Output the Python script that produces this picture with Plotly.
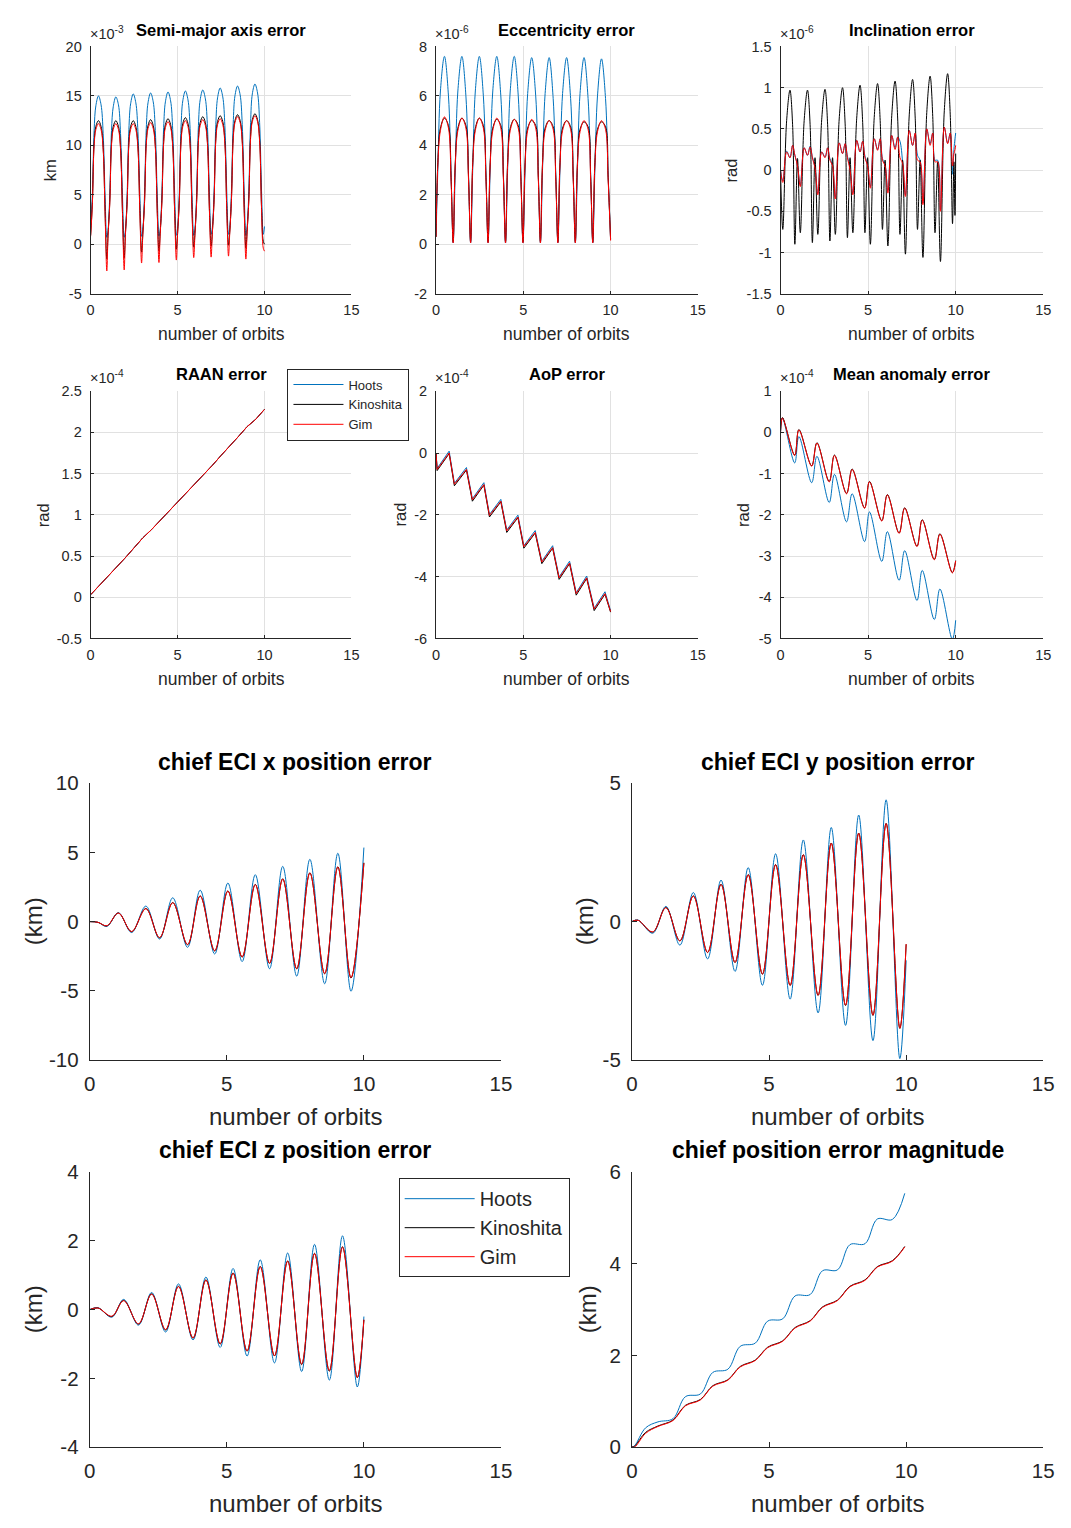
import plotly.graph_objects as go

# ======================= DATA =======================
SERIES = ["Hoots", "Kinoshita", "Gim"]

# --- Semi-major axis error (x1e-3 km)
X_SMA = [0.0, 0.1, 0.2, 0.3, 0.45, 0.6, 0.72, 0.83, 0.93,
         1.0, 1.1, 1.2, 1.3, 1.45, 1.6, 1.72, 1.83, 1.93,
         2.0, 2.1, 2.2, 2.3, 2.45, 2.6, 2.72, 2.83, 2.93,
         3.0, 3.1, 3.2, 3.3, 3.45, 3.6, 3.72, 3.83, 3.93,
         4.0, 4.1, 4.2, 4.3, 4.45, 4.6, 4.72, 4.83, 4.93,
         5.0, 5.1, 5.2, 5.3, 5.45, 5.6, 5.72, 5.83, 5.93,
         6.0, 6.1, 6.2, 6.3, 6.45, 6.6, 6.72, 6.83, 6.93,
         7.0, 7.1, 7.2, 7.3, 7.45, 7.6, 7.72, 7.83, 7.93,
         8.0, 8.1, 8.2, 8.3, 8.45, 8.6, 8.72, 8.83, 8.93,
         9.0, 9.1, 9.2, 9.3, 9.45, 9.6, 9.72, 9.83, 9.93,
         10.0]
SMA_HOOTS = [1.8, 5.0, 11.5, 14.0, 15.0, 14.1, 11.2, 5.0, 0.7,
             1.4, 5.0, 11.5, 13.9, 14.9, 14.1, 11.2, 5.0, 0.7,
             1.4, 5.1, 11.6, 14.2, 15.2, 14.3, 11.4, 5.1, 0.8,
             1.5, 5.1, 11.7, 14.3, 15.3, 14.4, 11.5, 5.1, 0.8,
             1.5, 5.2, 11.8, 14.4, 15.4, 14.5, 11.6, 5.2, 0.9,
             1.6, 5.2, 11.9, 14.5, 15.5, 14.6, 11.7, 5.2, 0.9,
             1.6, 5.3, 12.0, 14.6, 15.6, 14.7, 11.8, 5.3, 1.0,
             1.7, 5.3, 12.1, 14.8, 15.8, 14.9, 12.0, 5.3, 1.0,
             1.7, 5.4, 12.2, 15.0, 16.0, 15.1, 12.1, 5.4, 0.9,
             1.8, 5.4, 12.3, 15.2, 16.2, 15.3, 12.3, 5.4, 1.0,
             1.8]
SMA_KINO = [0.9, 4.2, 10.2, 11.9, 12.5, 11.9, 9.8, 3.3, -1.5,
            0.9, 4.2, 10.2, 11.9, 12.5, 11.9, 9.8, 3.3, -1.4,
            1.0, 4.3, 10.3, 11.9, 12.5, 11.9, 9.9, 3.4, -0.8,
            1.0, 4.3, 10.3, 12.0, 12.6, 12.0, 10.0, 3.4, -0.7,
            1.1, 4.4, 10.4, 12.1, 12.7, 12.1, 10.1, 3.5, -0.5,
            1.1, 4.4, 10.5, 12.2, 12.8, 12.2, 10.2, 3.5, -0.3,
            1.1, 4.5, 10.6, 12.3, 12.9, 12.3, 10.3, 3.6, -0.2,
            1.2, 4.5, 10.7, 12.4, 13.0, 12.4, 10.4, 3.6, -0.1,
            1.2, 4.6, 10.8, 12.5, 13.1, 12.5, 10.5, 3.7, -0.4,
            1.3, 4.6, 10.9, 12.6, 13.2, 12.6, 10.6, 3.7, 0.3,
            0.0]
SMA_GIM = [0.8, 4.1, 10.0, 11.6, 12.2, 11.6, 9.6, 3.2, -2.7,
           0.8, 4.1, 10.0, 11.6, 12.2, 11.6, 9.6, 3.2, -2.6,
           0.9, 4.2, 10.1, 11.6, 12.2, 11.6, 9.7, 3.3, -1.9,
           0.9, 4.2, 10.1, 11.7, 12.3, 11.7, 9.8, 3.3, -1.85,
           1.0, 4.3, 10.2, 11.8, 12.4, 11.8, 9.9, 3.4, -1.6,
           1.0, 4.3, 10.3, 11.9, 12.5, 11.9, 10.0, 3.4, -1.35,
           1.0, 4.4, 10.4, 12.0, 12.6, 12.0, 10.1, 3.5, -1.3,
           1.1, 4.4, 10.5, 12.1, 12.7, 12.1, 10.2, 3.5, -1.2,
           1.1, 4.5, 10.6, 12.3, 12.9, 12.3, 10.3, 3.6, -1.5,
           1.2, 4.5, 10.7, 12.4, 13.0, 12.4, 10.4, 3.6, -0.4,
           -0.7]

# --- Eccentricity error (x1e-6)
X_ECC = [0.0, 0.1, 0.25, 0.48, 0.71, 0.86,
         0.98, 1.1, 1.25, 1.48, 1.71, 1.86,
         1.98, 2.1, 2.25, 2.48, 2.71, 2.86,
         2.98, 3.1, 3.25, 3.48, 3.71, 3.86,
         3.98, 4.1, 4.25, 4.48, 4.71, 4.86,
         4.98, 5.1, 5.25, 5.48, 5.71, 5.86,
         5.98, 6.1, 6.25, 6.48, 6.71, 6.86,
         6.98, 7.1, 7.25, 7.48, 7.71, 7.86,
         7.98, 8.1, 8.25, 8.48, 8.71, 8.86,
         8.98, 9.1, 9.25, 9.48, 9.71, 9.86,
         10.0]
ECC_HOOTS = [0.3, 3.0, 6.2, 7.6, 6.0, 2.8,
             0.05, 3.0, 6.2, 7.6, 6.0, 2.8,
             0.05, 3.0, 6.2, 7.6, 6.0, 2.8,
             0.05, 3.0, 6.2, 7.6, 6.0, 2.8,
             0.05, 3.0, 6.2, 7.6, 6.0, 2.8,
             0.05, 3.0, 6.1, 7.55, 6.0, 2.8,
             0.05, 3.0, 6.1, 7.55, 5.9, 2.8,
             0.05, 3.0, 6.1, 7.55, 5.9, 2.8,
             0.05, 3.0, 6.1, 7.55, 5.9, 2.8,
             0.05, 3.0, 6.0, 7.5, 5.9, 2.8,
             0.2]
ECC_KINO = [0.3, 3.3, 4.7, 5.1, 4.8, 2.7,
            0.1, 3.3, 4.7, 5.1, 4.8, 2.7,
            0.1, 3.3, 4.7, 5.1, 4.8, 2.7,
            0.1, 3.3, 4.7, 5.05, 4.8, 2.7,
            0.1, 3.3, 4.7, 5.05, 4.8, 2.7,
            0.1, 3.3, 4.7, 5.0, 4.8, 2.7,
            0.1, 3.3, 4.7, 5.0, 4.75, 2.7,
            0.1, 3.3, 4.7, 5.0, 4.75, 2.7,
            0.1, 3.3, 4.65, 4.95, 4.75, 2.7,
            0.1, 3.3, 4.65, 4.95, 4.75, 2.7,
            0.2]
ECC_GIM = [0.3, 3.2, 4.6, 5.15, 4.7, 2.6,
           0.05, 3.2, 4.6, 5.1, 4.7, 2.6,
           0.05, 3.2, 4.6, 5.1, 4.7, 2.6,
           0.05, 3.2, 4.6, 5.1, 4.7, 2.6,
           0.05, 3.2, 4.6, 5.05, 4.7, 2.6,
           0.05, 3.2, 4.6, 5.05, 4.7, 2.6,
           0.05, 3.2, 4.6, 5.0, 4.65, 2.6,
           0.05, 3.2, 4.6, 5.0, 4.65, 2.6,
           0.05, 3.2, 4.55, 5.0, 4.65, 2.6,
           0.05, 3.2, 4.55, 5.0, 4.65, 2.6,
           0.15]

# --- Inclination error (x1e-6 rad)
X_INC = [0.0, 0.13, 0.35, 0.54, 0.69, 0.82,
         0.97, 1.13, 1.35, 1.54, 1.69, 1.82,
         1.97, 2.13, 2.35, 2.54, 2.69, 2.82,
         2.97, 3.13, 3.35, 3.54, 3.69, 3.82,
         3.97, 4.13, 4.35, 4.54, 4.69, 4.82,
         4.97, 5.13, 5.35, 5.54, 5.69, 5.82,
         5.97, 6.13, 6.35, 6.54, 6.69, 6.82,
         6.97, 7.13, 7.35, 7.54, 7.69, 7.82,
         7.97, 8.13, 8.35, 8.54, 8.69, 8.82,
         8.97, 9.13, 9.35, 9.54, 9.69, 9.82,
         9.9, 9.96, 10.0]
INC_HOOTS = [0.0, -0.13, 0.23, 0.15, 0.3, 0.18,
             0.06, -0.18, 0.27, 0.18, 0.29, 0.16,
             0.03, -0.28, 0.22, 0.16, 0.27, 0.14,
             0.06, -0.33, 0.33, 0.2, 0.32, 0.17,
             0.02, -0.28, 0.36, 0.22, 0.35, 0.17,
             0.06, -0.2, 0.38, 0.25, 0.38, 0.14,
             0.06, -0.25, 0.42, 0.27, 0.4, 0.35,
             0.1, -0.3, 0.48, 0.3, 0.45, 0.18,
             0.12, -0.4, 0.5, 0.32, 0.45, 0.12,
             0.12, -0.48, 0.52, 0.33, 0.45, -0.05,
             0.25, 0.38, 0.45]
INC_KINO = [0.0, -0.72, 0.6, 0.97, 0.55, -0.90,
            0.14, -0.76, 0.6, 0.97, 0.55, -0.88,
            0.15, -0.78, 0.61, 0.98, 0.55, -0.86,
            0.15, -0.78, 0.62, 1.0, 0.56, -0.82,
            0.15, -0.76, 0.63, 1.03, 0.58, -0.76,
            0.15, -0.90, 0.64, 1.05, 0.6, -0.72,
            0.12, -0.92, 0.66, 1.08, 0.62, -0.78,
            0.12, -1.02, 0.67, 1.1, 0.63, -0.72,
            0.12, -1.06, 0.7, 1.14, 0.65, -0.76,
            0.1, -1.11, 0.72, 1.17, 0.67, -0.65,
            0.1, -0.55, 0.2]
INC_GIM = [0.0, -0.15, 0.22, 0.15, 0.3, 0.18,
           0.05, -0.2, 0.27, 0.18, 0.28, 0.15,
           0.02, -0.3, 0.22, 0.15, 0.27, 0.12,
           0.05, -0.35, 0.33, 0.2, 0.32, 0.15,
           0.0, -0.3, 0.36, 0.22, 0.35, 0.15,
           0.05, -0.22, 0.38, 0.24, 0.38, 0.12,
           0.05, -0.28, 0.42, 0.25, 0.4, 0.15,
           0.08, -0.32, 0.48, 0.3, 0.45, 0.12,
           0.1, -0.42, 0.5, 0.3, 0.45, 0.1,
           0.1, -0.5, 0.52, 0.32, 0.45, 0.05,
           0.2, 0.25, 0.3]

# --- RAAN error (x1e-4 rad)
X_RAAN = [0.0, 0.5, 1.0, 1.5, 2.0, 2.5, 3.0, 3.5, 4.0, 4.5, 5.0,
          5.5, 6.0, 6.5, 7.0, 7.5, 8.0, 8.5, 9.0, 9.5, 10.0]
RAAN_HOOTS = [0.03, 0.14, 0.25, 0.37, 0.48, 0.6, 0.72, 0.82, 0.93, 1.04, 1.15,
              1.27, 1.38, 1.49, 1.6, 1.72, 1.83, 1.95, 2.07, 2.16, 2.28]
RAAN_KINO = [0.03, 0.14, 0.25, 0.37, 0.48, 0.6, 0.72, 0.82, 0.93, 1.04, 1.15,
             1.27, 1.38, 1.49, 1.6, 1.72, 1.83, 1.95, 2.07, 2.16, 2.28]
RAAN_GIM = [0.03, 0.14, 0.25, 0.37, 0.48, 0.6, 0.72, 0.82, 0.93, 1.04, 1.15,
            1.27, 1.38, 1.49, 1.6, 1.72, 1.83, 1.95, 2.07, 2.16, 2.28]

# --- AoP error (x1e-4 rad)
X_AOP = [0.0, 0.06, 0.75, 1.05, 1.74, 2.08, 2.74, 3.06, 3.71, 4.05, 4.69,
         5.03, 5.68, 6.06, 6.68, 7.05, 7.65, 8.03, 8.63, 9.06, 9.68, 10.0]
AOP_HOOTS = [0.0, -0.5, 0.06, -0.98, -0.47, -1.48, -0.96, -1.99, -1.5, -2.49, -2.01,
             -3.0, -2.51, -3.5, -3.0, -4.01, -3.5, -4.52, -3.98, -5.02, -4.49, -5.1]
AOP_KINO = [0.0, -0.57, -0.02, -1.06, -0.55, -1.56, -1.04, -2.07, -1.58, -2.57, -2.09,
            -3.08, -2.59, -3.58, -3.08, -4.09, -3.58, -4.6, -4.06, -5.1, -4.57, -5.15]
AOP_GIM = [0.0, -0.53, 0.0, -1.01, -0.53, -1.51, -1.02, -2.02, -1.56, -2.52, -2.07,
           -3.03, -2.57, -3.53, -3.06, -4.04, -3.56, -4.55, -4.04, -5.05, -4.55, -5.13]

# --- Mean anomaly error (x1e-4 rad)
X_MA = [0.0, 0.11, 0.81, 1.05, 1.78, 2.08, 2.78, 3.08, 3.77, 4.09, 4.8,
        5.08, 5.78, 6.1, 6.77, 7.09, 7.79, 8.09, 8.78, 9.1, 9.81, 10.0]
MA_HOOTS = [0.0, 0.35, -0.74, -0.1, -1.22, -0.58, -1.7, -1.02, -2.17, -1.49, -2.65,
            -1.93, -3.13, -2.41, -3.59, -2.87, -4.08, -3.35, -4.54, -3.8, -5.02, -4.56]
MA_KINO = [0.0, 0.36, -0.55, 0.07, -0.81, -0.25, -1.19, -0.55, -1.48, -0.89, -1.83,
           -1.19, -2.14, -1.51, -2.44, -1.83, -2.76, -2.12, -3.08, -2.46, -3.4, -3.11]
MA_GIM = [0.0, 0.35, -0.56, 0.06, -0.82, -0.26, -1.2, -0.56, -1.49, -0.9, -1.84,
          -1.2, -2.15, -1.52, -2.45, -1.84, -2.77, -2.13, -3.09, -2.47, -3.41, -3.12]

# --- chief ECI x position error (km)
X_ECIX = [0.0, 0.3, 0.63, 1.05, 1.53, 2.05, 2.55, 3.03, 3.57, 4.03, 4.56,
          5.04, 5.56, 6.04, 6.56, 7.04, 7.55, 8.03, 8.57, 9.05, 9.53, 10.0]
ECIX_HOOTS = [0.0, -0.05, -0.35, 0.65, -0.79, 1.12, -1.26, 1.72, -1.86, 2.27, -2.34,
              2.79, -2.89, 3.39, -3.41, 3.99, -3.94, 4.5, -4.49, 4.94, -5.03, 5.35]
ECIX_KINO = [0.0, -0.05, -0.31, 0.62, -0.73, 0.95, -1.17, 1.38, -1.67, 1.86, -2.12,
             2.22, -2.57, 2.69, -3.02, 3.1, -3.42, 3.53, -3.77, 3.96, -4.08, 4.25]
ECIX_GIM = [0.0, -0.05, -0.3, 0.62, -0.72, 0.93, -1.15, 1.36, -1.65, 1.84, -2.1,
            2.2, -2.55, 2.67, -3.0, 3.08, -3.4, 3.51, -3.75, 3.94, -4.05, 4.22]

# --- chief ECI y position error (km)
X_ECIY = [0.0, 0.22, 0.76, 1.24, 1.75, 2.24, 2.76, 3.25, 3.76, 4.24, 4.76,
          5.24, 5.77, 6.25, 6.79, 7.27, 7.79, 8.27, 8.79, 9.27, 9.77, 10.0]
ECIY_HOOTS = [0.0, 0.06, -0.42, 0.55, -0.85, 1.05, -1.35, 1.5, -1.8, 1.95, -2.3,
              2.45, -2.8, 2.95, -3.3, 3.4, -3.75, 3.85, -4.3, 4.4, -4.95, -1.4]
ECIY_KINO = [0.0, 0.05, -0.38, 0.51, -0.7, 0.93, -1.12, 1.35, -1.48, 1.7, -1.9,
             2.06, -2.31, 2.42, -2.67, 2.84, -3.03, 3.2, -3.39, 3.55, -3.86, -0.82]
ECIY_GIM = [0.0, 0.05, -0.37, 0.5, -0.69, 0.92, -1.11, 1.34, -1.47, 1.69, -1.89,
            2.05, -2.3, 2.41, -2.66, 2.83, -3.02, 3.19, -3.38, 3.54, -3.85, -0.81]

# --- chief ECI z position error (km)
X_ECIZ = [0.0, 0.3, 0.81, 1.24, 1.78, 2.26, 2.77, 3.24, 3.77, 4.24, 4.76,
          5.23, 5.74, 6.22, 6.74, 7.22, 7.73, 8.2, 8.74, 9.22, 9.76, 10.0]
ECIZ_HOOTS = [0.0, 0.06, -0.22, 0.3, -0.45, 0.5, -0.65, 0.75, -0.88, 0.95, -1.1,
              1.2, -1.35, 1.45, -1.55, 1.65, -1.8, 1.9, -2.05, 2.15, -2.25, -0.2]
ECIZ_KINO = [0.0, 0.05, -0.2, 0.27, -0.42, 0.46, -0.59, 0.68, -0.83, 0.87, -1.0,
             1.07, -1.21, 1.26, -1.35, 1.42, -1.6, 1.64, -1.79, 1.83, -1.98, -0.3]
ECIZ_GIM = [0.0, 0.05, -0.19, 0.26, -0.41, 0.45, -0.58, 0.67, -0.82, 0.86, -0.99,
            1.06, -1.2, 1.25, -1.34, 1.41, -1.58, 1.63, -1.77, 1.82, -1.97, -0.29]

# --- chief position error magnitude (km)
X_MAG = [0.0, 0.1, 0.5, 0.95, 1.5, 1.95, 2.5, 2.95, 3.5, 3.95, 4.5,
         4.95, 5.5, 5.95, 6.5, 6.95, 7.5, 7.95, 8.5, 8.95, 9.5, 9.95]
MAG_HOOTS = [0.0, 0.03, 0.42, 0.55, 0.62, 1.1, 1.16, 1.63, 1.7, 2.2, 2.27,
             2.75, 2.8, 3.3, 3.33, 3.85, 3.87, 4.42, 4.44, 4.98, 4.97, 5.54]
MAG_KINO = [0.0, 0.02, 0.32, 0.46, 0.59, 0.91, 1.04, 1.34, 1.47, 1.76, 1.9,
            2.18, 2.32, 2.61, 2.76, 3.06, 3.21, 3.51, 3.65, 3.94, 4.07, 4.38]
MAG_GIM = [0.0, 0.0, 0.3, 0.45, 0.58, 0.9, 1.03, 1.33, 1.46, 1.75, 1.89,
           2.17, 2.31, 2.6, 2.75, 3.05, 3.2, 3.5, 3.64, 3.93, 4.06, 4.37]

X_TICKS = [0, 5, 10, 15]
Y_TICKS = {
    "sma": [-5, 0, 5, 10, 15, 20],
    "ecc": [-2, 0, 2, 4, 6, 8],
    "inc": [-1.5, -1, -0.5, 0, 0.5, 1, 1.5],
    "raan": [-0.5, 0, 0.5, 1, 1.5, 2, 2.5],
    "aop": [-6, -4, -2, 0, 2],
    "ma": [-5, -4, -3, -2, -1, 0, 1],
    "ecix": [-10, -5, 0, 5, 10],
    "eciy": [-5, 0, 5],
    "eciz": [-4, -2, 0, 2, 4],
    "mag": [0, 2, 4, 6],
}

# ======================= STYLE / LAYOUT =======================
W, H = 1071, 1528
FONT = "Liberation Sans, Arial, Helvetica, sans-serif"
AX = "#262626"
GRID = "#e1e1e1"
COLORS = {"Hoots": "#0072BD", "Kinoshita": "#000000", "Gim": "#FF0000"}


def fx(p):
    return p / W


def fy(p):
    return 1 - p / H


PANELS = [
    dict(key="sma", x=X_SMA, ys=[SMA_HOOTS, SMA_KINO, SMA_GIM], box=(86, 351, 35, 286),
         yr=(-5, 20), small=True, title="Semi-major axis error", ty=18, yl="km", ylx=45,
         exp="×10<sup>-3</sup>", shape="spline", title_bg=True),
    dict(key="ecc", x=X_ECC, ys=[ECC_HOOTS, ECC_KINO, ECC_GIM], box=(437, 703, 35, 286),
         yr=(-2, 8), small=True, title="Eccentricity error", ty=18, yl=None, ylx=None,
         exp="×10<sup>-6</sup>", shape="spline"),
    dict(key="inc", x=X_INC, ys=[INC_HOOTS, INC_KINO, INC_GIM], box=(787, 1054, 35, 286),
         yr=(-1.5, 1.5), small=True, title="Inclination error", ty=18, yl="rad", ylx=737,
         exp="×10<sup>-6</sup>", shape="spline"),
    dict(key="raan", x=X_RAAN, ys=[RAAN_HOOTS, RAAN_KINO, RAAN_GIM], box=(86, 351, 385, 636),
         yr=(-0.5, 2.5), small=True, title="RAAN error", ty=368, yl="rad", ylx=37,
         exp="×10<sup>-4</sup>", shape="linear", legend="legend"),
    dict(key="aop", x=X_AOP, ys=[AOP_HOOTS, AOP_KINO, AOP_GIM], box=(437, 703, 385, 636),
         yr=(-6, 2), small=True, title="AoP error", ty=368, yl="rad", ylx=400,
         exp="×10<sup>-4</sup>", shape="linear"),
    dict(key="ma", x=X_MA, ys=[MA_HOOTS, MA_KINO, MA_GIM], box=(787, 1054, 385, 636),
         yr=(-5, 1), small=True, title="Mean anomaly error", ty=368, yl="rad", ylx=749,
         exp="×10<sup>-4</sup>", shape="spline"),
    dict(key="ecix", x=X_ECIX, ys=[ECIX_HOOTS, ECIX_KINO, ECIX_GIM], box=(85, 503, 783, 1064),
         yr=(-10, 10), small=False, title="chief ECI x position error", ty=761, yl="(km)", ylx=28,
         exp=None, shape="spline"),
    dict(key="eciy", x=X_ECIY, ys=[ECIY_HOOTS, ECIY_KINO, ECIY_GIM], box=(636, 1054, 783, 1064),
         yr=(-5, 5), small=False, title="chief ECI y position error", ty=761, yl="(km)", ylx=588,
         exp=None, shape="spline"),
    dict(key="eciz", x=X_ECIZ, ys=[ECIZ_HOOTS, ECIZ_KINO, ECIZ_GIM], box=(85, 503, 1178, 1457),
         yr=(-4, 4), small=False, title="chief ECI z position error", ty=1155, yl="(km)", ylx=28,
         exp=None, shape="spline", legend="legend2"),
    dict(key="mag", x=X_MAG, ys=[MAG_HOOTS, MAG_KINO, MAG_GIM], box=(636, 1054, 1178, 1457),
         yr=(0, 6), small=False, title="chief position error magnitude", ty=1155, yl="(km)", ylx=591,
         exp=None, shape="spline"),
]

fig = go.Figure()
layout = dict(width=W, height=H, margin=dict(l=0, r=0, t=0, b=0),
              paper_bgcolor="white", plot_bgcolor="white",
              font=dict(family=FONT, color=AX), annotations=[])


def ann(text, xp, yp, size, bold=False, angle=0, xanchor="center", yanchor="middle", bg=None):
    a = dict(text=f"<b>{text}</b>" if bold else text, x=fx(xp), y=fy(yp),
             xref="paper", yref="paper", showarrow=False, textangle=angle,
             xanchor=xanchor, yanchor=yanchor,
             font=dict(family=FONT, size=size, color="#000000" if bold else AX))
    if bg:
        a["bgcolor"] = bg
        a["borderpad"] = 0
    layout["annotations"].append(a)


for i, p in enumerate(PANELS, start=1):
    sfx = "" if i == 1 else str(i)
    x0, x1, yt, yb = p["box"]
    small = p["small"]
    tick_size = 14.5 if small else 20.5
    lab_size = 17.5 if small else 24
    ttl_size = 16.5 if small else 23
    yv = Y_TICKS[p["key"]]
    common = dict(showline=True, linecolor=AX, linewidth=1, ticks="inside",
                  ticklen=3 if small else 5, tickcolor=AX, tickwidth=1,
                  showgrid=small, gridcolor=GRID, gridwidth=1, zeroline=False,
                  fixedrange=True, tickfont=dict(family=FONT, size=tick_size, color=AX),
                  mirror=False)
    layout["xaxis" + sfx] = dict(domain=[fx(x0), fx(x1)], range=[0, 15], anchor="y" + sfx,
                                 tickvals=X_TICKS, ticktext=[f"{v:g}" for v in X_TICKS],
                                 ticklabelstandoff=3 if small else 5, **common)
    layout["yaxis" + sfx] = dict(domain=[fy(yb), fy(yt)], range=list(p["yr"]), anchor="x" + sfx,
                                 tickvals=yv, ticktext=[f"{v:g}" for v in yv],
                                 ticklabelstandoff=5 if small else 6, **common)

    for name, ydata in zip(SERIES, p["ys"]):
        line = dict(color=COLORS[name], width=1, shape=p["shape"])
        if p["shape"] == "spline":
            line["smoothing"] = 1.0
        tr = go.Scatter(x=p["x"], y=ydata, mode="lines", name=name, line=line,
                        xaxis="x" + sfx, yaxis="y" + sfx,
                        showlegend=bool(p.get("legend")), hoverinfo="skip")
        if p.get("legend"):
            tr.legend = p["legend"]
        fig.add_trace(tr)

    cx = (x0 + x1) / 2
    ann(p["title"], cx, p["ty"], ttl_size, bold=True, bg="white" if p.get("title_bg") else None)
    ann("number of orbits", cx, yb + (41 if small else 57), lab_size)
    if p["yl"]:
        ann(p["yl"], p["ylx"], (yt + yb) / 2, lab_size if not small else 16.5, angle=-90)
    if p["exp"]:
        ann(p["exp"], x0 - 3, yt - 14, 14.5, xanchor="left")

layout["legend"] = dict(x=fx(286), y=fy(362), xanchor="left", yanchor="top",
                        bgcolor="white", bordercolor=AX, borderwidth=1,
                        font=dict(family=FONT, size=13, color=AX),
                        itemwidth=50, tracegroupgap=0, traceorder="normal")
layout["legend2"] = dict(x=fx(399), y=fy(1184), xanchor="left", yanchor="top",
                         bgcolor="white", bordercolor=AX, borderwidth=1,
                         font=dict(family=FONT, size=20, color=AX),
                         itemwidth=70, tracegroupgap=0, traceorder="normal")
layout["showlegend"] = True

fig.update_layout(**layout)
fig.write_html("out.html",
               post_script="document.body.style.margin='0px';"
                           "document.body.style.padding='0px';")
